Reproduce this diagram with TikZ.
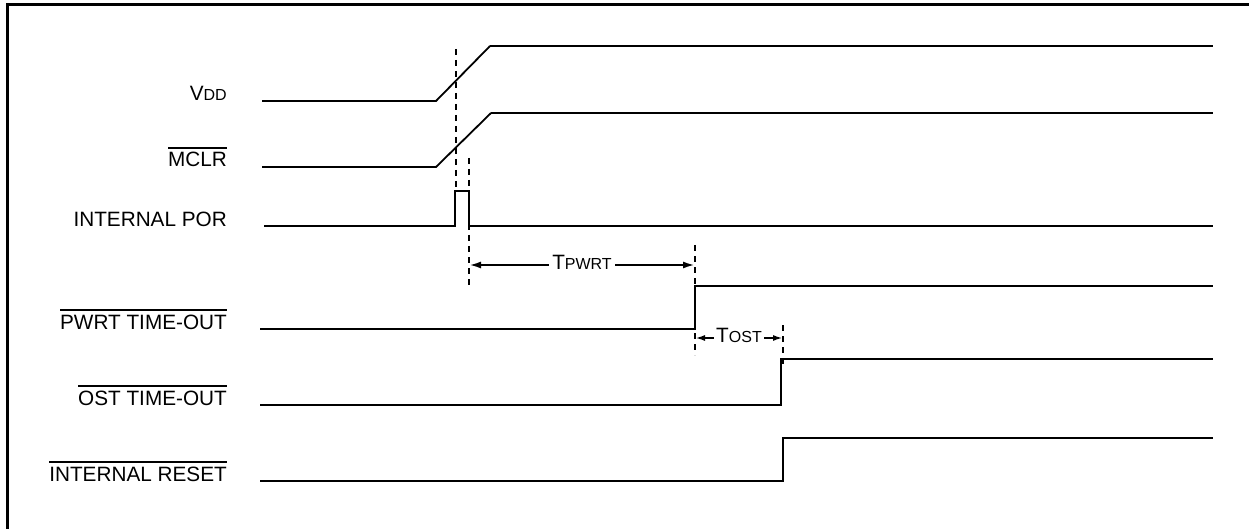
\documentclass[tikz,border=0pt]{standalone}
\usepackage{fontspec}
\setmainfont{Liberation Sans}
\usetikzlibrary{arrows.meta}
\newcommand{\ovl}[1]{\leavevmode\setbox0\hbox{#1}\rlap{\rule[\dimexpr\ht0+4pt\relax]{\wd0}{2pt}}\box0}
\newcommand{\sml}[1]{{\fontsize{16}{18}\selectfont #1}}

\begin{document}
\begin{tikzpicture}[x=1pt,y=-1pt,
        sig/.style={line width=2.8pt},
        thinsig/.style={line width=1.8pt},
        guide/.style={line width=2.2pt, dash pattern=on 6pt off 5pt},
        lbl/.style={anchor=base east, inner sep=0pt, font=\fontsize{20.74}{24}\selectfont},
        span/.style={line width=2.2pt, {Latex[length=12pt,width=7pt]}-{Latex[length=12pt,width=7pt]}},
        tag/.style={fill=white, inner sep=3pt, yshift=3pt, font=\fontsize{20.74}{24}\selectfont}]
        \useasboundingbox (0,0) rectangle (1249,529);

        % frame
        \draw[line width=3pt] (7,529) -- (7,5) -- (1249,5);

        % coordinates
        \coordinate (v0) at (262,101);
        \coordinate (v1) at (436,101);
        \coordinate (v2) at (490,46);
        \coordinate (v3) at (1213,46);
        \coordinate (m0) at (262,167);
        \coordinate (m1) at (436,167);
        \coordinate (m2) at (491,113);
        \coordinate (m3) at (1213,113);
        \coordinate (p0) at (264,226);
        \coordinate (p1) at (455,226);
        \coordinate (p2) at (455,191);
        \coordinate (p3) at (469,191);
        \coordinate (p4) at (469,226);
        \coordinate (p5) at (1213,226);
        \coordinate (w0) at (260,329);
        \coordinate (w1) at (695,329);
        \coordinate (w2) at (695,286);
        \coordinate (w3) at (1213,286);
        \coordinate (o0) at (260,405);
        \coordinate (o1) at (781,405);
        \coordinate (o2) at (781,359);
        \coordinate (o3) at (1213,359);
        \coordinate (r0) at (260,481);
        \coordinate (r1) at (783,481);
        \coordinate (r2) at (783,438);
        \coordinate (r3) at (1213,438);

        % signals
        \draw[thinsig] (v0) -- (v1) -- (v2);
        \draw[sig] (v2) -- (v3);
        \draw[thinsig] (m0) -- (m1) -- (m2);
        \draw[sig] (m2) -- (m3);
        \draw[sig] (p0) -- (p1) -- (p2) -- (p3) -- (p4) -- (p5);
        \draw[sig] (w0) -- (w1) -- (w2) -- (w3);
        \draw[sig] (o0) -- (o1) -- (o2) -- (o3);
        \draw[sig] (r0) -- (r1) -- (r2) -- (r3);

        % coordinates
        \coordinate (g1a) at (456,49);
        \coordinate (g1b) at (456,188);
        \coordinate (g2a) at (469,158);
        \coordinate (g2b) at (469,286);
        \coordinate (g3a) at (695,245);
        \coordinate (g3b) at (695,355);
        \coordinate (g4a) at (783,325);
        \coordinate (g4b) at (783,367);

        % guides
        \draw[guide] (g1a) -- (g1b);
        \draw[guide] (g2a) -- (g2b);
        \draw[guide] (g3a) -- (g3b);
        \draw[guide] (g4a) -- (g4b);

        % intervals
        \draw[span] (469,265) -- node[tag] (tpwrt) {T\sml{PWRT}} (695,265);
        \draw[span, {Latex[length=10pt,width=6pt]}-{Latex[length=10pt,width=6pt]}] (695,338) -- node[tag, inner sep=2pt] (tost) {T\sml{OST}} (783,338);

        % Text
        \node[lbl] (vdd) at (227,101) {V\sml{DD}};
        \node[lbl] (mclr) at (227,167) {\ovl{MCLR}};
        \node[lbl] (por) at (227,226) {INTERNAL POR};
        \node[lbl] (pwrt) at (227,329) {\ovl{PWRT TIME-OUT}};
        \node[lbl] (ost) at (227,405) {\ovl{OST TIME-OUT}};
        \node[lbl] (rst) at (227,481) {\ovl{INTERNAL RESET}};

    \end{tikzpicture}
\end{document}
